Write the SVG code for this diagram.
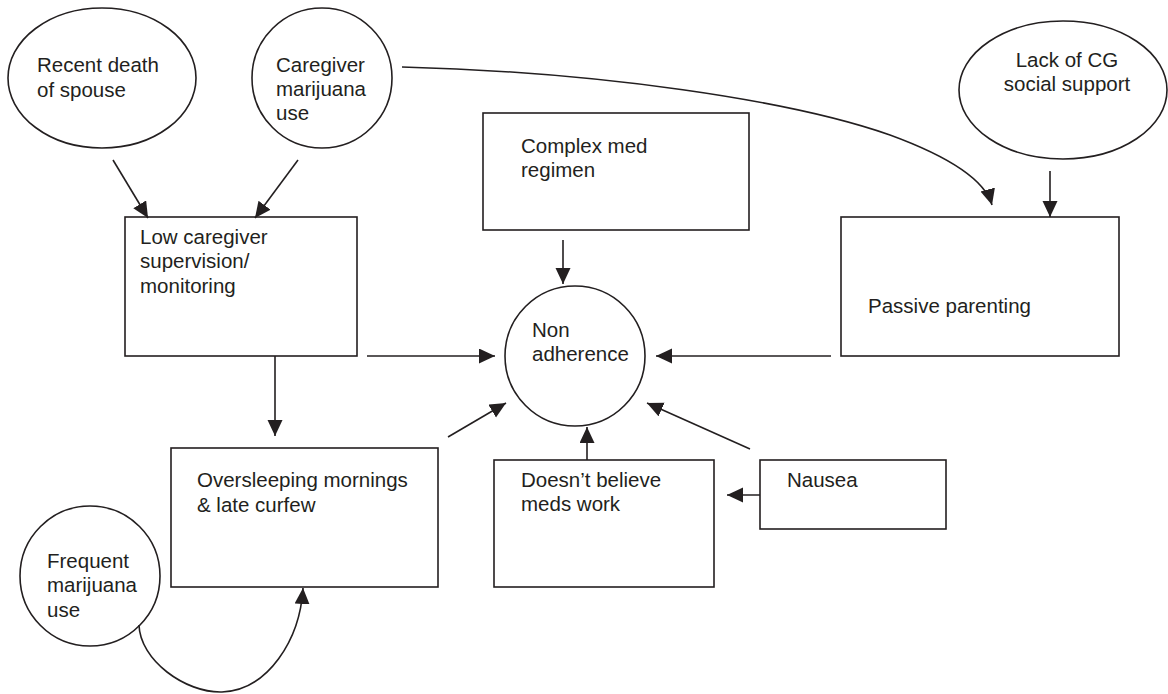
<svg xmlns="http://www.w3.org/2000/svg" width="1168" height="694" viewBox="0 0 1168 694">
<defs>
<marker id="ah" markerUnits="userSpaceOnUse" markerWidth="17" markerHeight="16" refX="16" refY="7.5" orient="auto">
<path d="M0,0 L16,7.5 L0,15 z" fill="#231f20"/>
</marker>
<style>
.n{fill:#fff;stroke:#231f20;stroke-width:1.6}
.t{font-family:"Liberation Sans",Arial,sans-serif;font-size:20.5px;fill:#231f20}
.c{fill:none;stroke:#231f20;stroke-width:1.6;marker-end:url(#ah)}
</style>
</defs>
<rect width="1168" height="694" fill="#fff"/>
<g id="recent-death">
<ellipse class="n" cx="102" cy="78" rx="94" ry="70"/>
<text class="t" x="37" y="72">Recent death</text>
<text class="t" x="37" y="97">of spouse</text>
</g>
<g id="caregiver-marijuana">
<circle class="n" cx="322" cy="78" r="70"/>
<text class="t" x="276" y="72">Caregiver</text>
<text class="t" x="276" y="96">marijuana</text>
<text class="t" x="276" y="120">use</text>
</g>
<g id="lack-support">
<ellipse class="n" cx="1063" cy="90" rx="104" ry="69"/>
<text class="t" x="1067" y="67" text-anchor="middle">Lack of CG</text>
<text class="t" x="1067" y="91" text-anchor="middle">social support</text>
</g>
<g id="complex-med">
<rect class="n" x="483" y="113" width="266" height="117"/>
<text class="t" x="521" y="153">Complex med</text>
<text class="t" x="521" y="177">regimen</text>
</g>
<g id="low-caregiver">
<rect class="n" x="125" y="217" width="232" height="139"/>
<text class="t" x="140" y="244">Low caregiver</text>
<text class="t" x="140" y="268">supervision/</text>
<text class="t" x="140" y="293">monitoring</text>
</g>
<g id="passive-parenting">
<rect class="n" x="841" y="217" width="278" height="139"/>
<text class="t" x="868" y="313">Passive parenting</text>
</g>
<g id="non-adherence">
<circle class="n" cx="575" cy="356" r="70"/>
<text class="t" x="532" y="337">Non</text>
<text class="t" x="532" y="361">adherence</text>
</g>
<g id="oversleeping">
<rect class="n" x="171" y="448" width="267" height="139"/>
<text class="t" x="197" y="487">Oversleeping mornings</text>
<text class="t" x="197" y="512">&amp; late curfew</text>
</g>
<g id="doesnt-believe">
<rect class="n" x="494" y="460" width="220" height="127"/>
<text class="t" x="521" y="487">Doesn’t believe</text>
<text class="t" x="521" y="511">meds work</text>
</g>
<g id="nausea">
<rect class="n" x="760" y="460" width="186" height="69"/>
<text class="t" x="787" y="487">Nausea</text>
</g>
<g id="frequent-marijuana">
<circle class="n" cx="90" cy="576" r="70"/>
<text class="t" x="47" y="568">Frequent</text>
<text class="t" x="47" y="592">marijuana</text>
<text class="t" x="47" y="617">use</text>
</g>
<g id="connectors">
<path class="c" d="M113,160 L148,218"/>
<path class="c" d="M298,160 L255,218"/>
<path class="c" d="M402,67 C600,72 790,100 890,135 C950,157 985,180 992,205"/>
<path class="c" d="M1050,171 L1050,217"/>
<path class="c" d="M563,240 L563,284"/>
<path class="c" d="M367,356 L495,356"/>
<path class="c" d="M831,356 L656,356"/>
<path class="c" d="M275,356 L275,436"/>
<path class="c" d="M448,437 L506,403"/>
<path class="c" d="M587,460 L587,427"/>
<path class="c" d="M750,449 L647,403"/>
<path class="c" d="M760,495 L727,495"/>
<path class="c" d="M139,625 C140,660 185,693 222,692 C268,690 300,640 303,588"/>
</g>
</svg>
